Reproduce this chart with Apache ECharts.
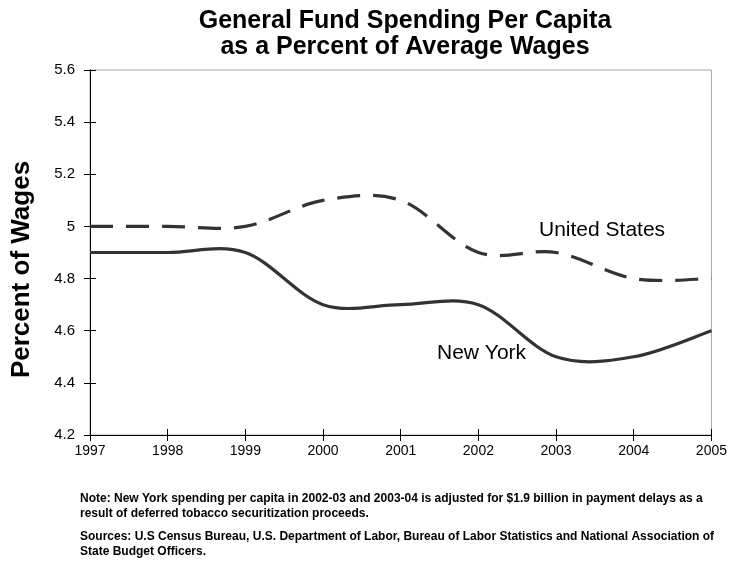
<!DOCTYPE html>
<html>
<head>
<meta charset="utf-8">
<script src="https://cdn.jsdelivr.net/npm/echarts@6/dist/echarts.min.js"></script>
<style>
  html, body { margin: 0; padding: 0; background: #fff; }
  #chart { width: 730px; height: 561px; }
</style>
</head>
<body>
<div id="chart"></div>
<script>
// Fiscal years on the category axis
const years = ['1997', '1998', '1999', '2000', '2001', '2002', '2003', '2004', '2005'];
// General fund spending per capita as a percent of average wages
const unitedStates = [5.0, 5.0, 5.0, 5.1, 5.1, 4.9, 4.9, 4.8, 4.8];
const newYork = [4.9, 4.9, 4.9, 4.7, 4.7, 4.7, 4.5, 4.5, 4.6];
// Value axis range and step
const yMin = 4.2;
const yMax = 5.6;
const yStep = 0.2;

const FONT = '"Liberation Sans", Arial, Helvetica, sans-serif';
const INK = '#333333';

// Bezier path through the points (spreadsheet-style smoothing, 1/6 tangents)
function smoothPath(values, api) {
  const pts = values.map((v, i) => api.coord([i, v]));
  const n = pts.length;
  let d = 'M' + pts[0][0] + ' ' + pts[0][1];
  for (let i = 0; i < n - 1; i++) {
    const p0 = pts[Math.max(i - 1, 0)];
    const p1 = pts[i];
    const p2 = pts[i + 1];
    const p3 = pts[Math.min(i + 2, n - 1)];
    const c1x = p1[0] + (p2[0] - p0[0]) / 6;
    const c1y = p1[1] + (p2[1] - p0[1]) / 6;
    const c2x = p2[0] - (p3[0] - p1[0]) / 6;
    const c2y = p2[1] - (p3[1] - p1[1]) / 6;
    d += ' C' + c1x + ' ' + c1y + ' ' + c2x + ' ' + c2y + ' ' + p2[0] + ' ' + p2[1];
  }
  return d;
}

function curveSeries(name, values, dash) {
  return {
    type: 'custom',
    name: name,
    coordinateSystem: 'cartesian2d',
    xAxisIndex: 0,
    yAxisIndex: 0,
    data: values.map((v, i) => [i, v]),
    encode: { x: 0, y: 1 },
    silent: true,
    animation: false,
    renderItem: function (params, api) {
      if (params.dataIndex !== 0) return null;
      return {
        type: 'path',
        shape: { pathData: smoothPath(values, api) },
        style: {
          fill: 'none',
          stroke: INK,
          lineWidth: 3.2,
          lineDash: dash,
          lineCap: 'butt',
          lineJoin: 'round'
        }
      };
    }
  };
}

const baseX = {
  type: 'category',
  data: years,
  boundaryGap: false,
  position: 'bottom',
  axisLine: { show: true, onZero: false, lineStyle: { color: '#000', width: 1 } },
  splitLine: { show: false }
};
const baseY = {
  type: 'value',
  min: yMin,
  max: yMax,
  interval: yStep,
  position: 'left',
  axisLine: { show: true, onZero: false, lineStyle: { color: '#000', width: 1 } },
  splitLine: { show: false }
};

function label(text, x, y, font, align) {
  return {
    type: 'text', x: x, y: y, silent: true,
    style: { text: text, fill: '#000', font: font, align: align || 'left', verticalAlign: 'middle' }
  };
}

const chart = echarts.init(document.getElementById('chart'), null, { renderer: 'canvas' });
chart.setOption({
  animation: false,
  backgroundColor: '#ffffff',
  grid: {
    left: 90, right: 17, top: 70, bottom: 126,
    show: true, borderColor: '#a6a6a6', borderWidth: 1, backgroundColor: 'transparent'
  },
  xAxis: [
    Object.assign({}, baseX, {
      axisTick: { show: true, inside: false, length: 6, lineStyle: { color: '#000' } },
      axisLabel: { show: true, margin: 9, color: '#000', fontSize: 14, fontFamily: FONT }
    }),
    Object.assign({}, baseX, {
      axisTick: { show: true, inside: true, length: 6, lineStyle: { color: '#000' } },
      axisLabel: { show: false }
    })
  ],
  yAxis: [
    Object.assign({}, baseY, {
      axisTick: { show: true, inside: false, length: 6, lineStyle: { color: '#000' } },
      axisLabel: { show: true, margin: 15, color: '#000', fontSize: 15, fontFamily: FONT }
    }),
    Object.assign({}, baseY, {
      axisTick: { show: true, inside: true, length: 6, lineStyle: { color: '#000' } },
      axisLabel: { show: false }
    })
  ],
  series: [
    curveSeries('United States', unitedStates, [23, 13]),
    curveSeries('New York', newYork, null)
  ],
  graphic: [
    label('General Fund Spending Per Capita', 405, 21.5, 'bold 25px ' + FONT, 'center'),
    label('as a Percent of Average Wages', 405, 47, 'bold 25px ' + FONT, 'center'),
    {
      type: 'text', x: 22, y: 269.5, rotation: Math.PI / 2, silent: true,
      style: { text: 'Percent of Wages', fill: '#000', font: 'bold 26px ' + FONT, align: 'center', verticalAlign: 'middle' }
    },
    label('United States', 539, 230.5, '21px ' + FONT),
    label('New York', 437, 353, '21px ' + FONT),
    label('Note: New York spending per capita in 2002-03 and 2003-04 is adjusted for $1.9 billion in payment delays as a', 80, 499, 'bold 12px ' + FONT),
    label('result of deferred tobacco securitization proceeds.', 80, 514, 'bold 12px ' + FONT),
    label('Sources: U.S Census Bureau, U.S. Department of Labor, Bureau of Labor Statistics and National Association of', 80, 537, 'bold 12px ' + FONT),
    label('State Budget Officers.', 80, 552, 'bold 12px ' + FONT)
  ]
});
</script>
</body>
</html>
